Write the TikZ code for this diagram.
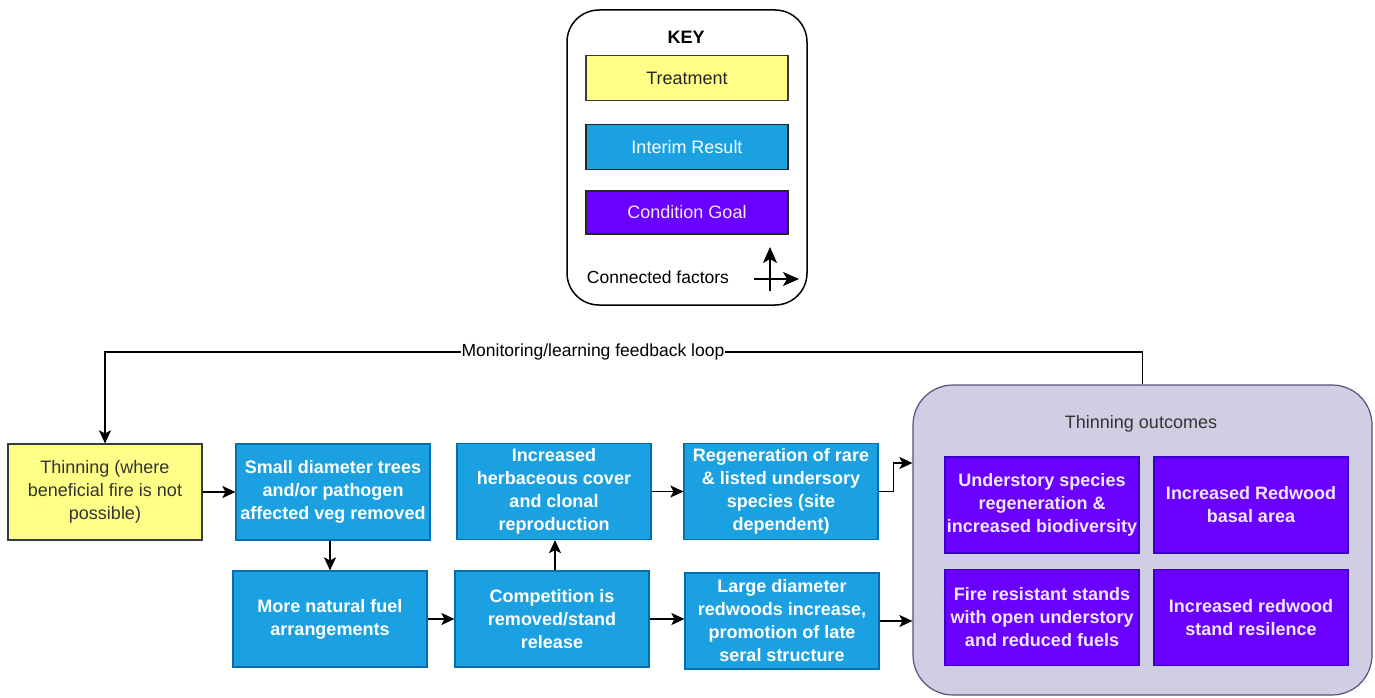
\documentclass[tikz,border=0pt]{standalone}
\usepackage{fontspec}
\setmainfont{Liberation Sans}
\usetikzlibrary{arrows.meta,calc}
\definecolor{treatfill}{HTML}{FFFF88}
\definecolor{treatline}{HTML}{36393D}
\definecolor{interfill}{HTML}{1BA1E2}
\definecolor{interline}{HTML}{006EAF}
\definecolor{goalfill}{HTML}{6A00FF}
\definecolor{goalline}{HTML}{3700CC}
\definecolor{goaltext}{HTML}{F3E8FF}
\definecolor{groupfill}{HTML}{D0CEE2}
\definecolor{groupline}{HTML}{56517E}
\definecolor{darktext}{HTML}{333333}
\tikzset{
  base/.style={rectangle, align=center, inner sep=2pt,
    font=\fontsize{18}{23}\selectfont, line width=1.2pt},
  treat/.style={base, fill=treatfill, draw=treatline, text=darktext},
  inter/.style={base, fill=interfill, draw=interline, text=white, font=\fontsize{18}{23}\selectfont\bfseries},
  goal/.style={base, fill=goalfill, draw=goalline, text=goaltext, font=\fontsize{18}{23}\selectfont\bfseries},
  flowbox/.style={minimum width=194pt, minimum height=96pt},
  keybox/.style={minimum width=202pt, minimum height=45pt},
  arr/.style={line width=1.5pt, -{Stealth[length=13pt,width=12pt,inset=3pt]}},
  bigarr/.style={line width=1.8pt, -{Stealth[length=16pt,width=14pt,inset=4pt]}},
}
\begin{document}
\begin{tikzpicture}[x=1pt,y=-1pt]
\useasboundingbox[fill=white] (0,0) rectangle (1375,698);

% legend
\node[draw=black, line width=1.5pt, rounded corners=32pt, fill=white,
  minimum width=240pt, minimum height=295pt] (key) at (687,157.5) {};
\node[font=\fontsize{18}{23}\selectfont\bfseries] (keytitle) at (686,37) {KEY};
\node[treat, keybox, font=\fontsize{18}{23}\selectfont, text=black!85] (kt) at (687,78) {Treatment};
\node[inter, keybox, draw=black!85, font=\fontsize{18}{23}\selectfont] (ki) at (687,147) {Interim Result};
\node[goal, keybox, minimum height=43pt, draw=black!85, font=\fontsize{18}{23}\selectfont] (kg) at (687,212.5) {Condition Goal};
\node[font=\fontsize{17.5}{20}\selectfont] (kc) at (658,277) {Connected factors};
\coordinate (vlo) at (770,291);
\coordinate (vhi) at (770,247);
\coordinate (hlo) at (754,279);
\coordinate (hhi) at (799,279);
\draw[bigarr] (vlo) -- (vhi);
\draw[bigarr] (hlo) -- (hhi);

% outcomes group
\node[draw=groupline, fill=groupfill, line width=1.2pt, rounded corners=40pt,
  minimum width=459pt, minimum height=310pt] (outc) at (1142.5,540) {};
\node[font=\fontsize{18}{23}\selectfont, text=darktext] (outtitle) at (1141,424) {Thinning outcomes};
\node[goal, flowbox] (g1) at (1042,505) {Understory species\\regeneration \&\\increased biodiversity};
\node[goal, flowbox] (g2) at (1251,505) {Increased Redwood\\basal area};
\node[goal, flowbox] (g3) at (1042,617.5) {Fire resistant stands\\with open understory\\and reduced fuels};
\node[goal, flowbox] (g4) at (1251,617.5) {Increased redwood\\stand resilence};

% flow boxes
\node[treat, flowbox] (thin) at (105,492) {Thinning (where\\beneficial fire is not\\possible)};
\node[inter, flowbox] (small) at (333,492) {Small diameter trees\\and/or pathogen\\affected veg removed};
\node[inter, flowbox] (fuel) at (330,619) {More natural fuel\\arrangements};
\node[inter, flowbox] (herb) at (554,491.5) {Increased\\herbaceous cover\\and clonal\\reproduction};
\node[inter, flowbox] (comp) at (552,619) {Competition is\\removed/stand\\release};
\node[inter, flowbox] (regen) at (781,491.5) {Regeneration of rare\\\& listed undersory\\species (site\\dependent)};
\node[inter, flowbox] (large) at (782,621) {Large diameter\\redwoods increase,\\promotion of late\\seral structure};

% connectors
\draw[arr] (thin.east) -- (small.west);
\draw[arr] (small.south -| fuel.north) -- (fuel.north);
\draw[arr] (fuel.east) -- (fuel.east -| comp.west);
\draw[arr] (comp.north -| 555,0) -- (herb.south -| 555,0);
\draw[arr] (herb.east) -- (herb.east -| regen.west);
\draw[arr] (comp.east) -- (comp.east -| large.west);
\coordinate (in1) at (outc.west |- 0,463);
\draw[arr] (regen.east) -- ++(15,0) |- (in1);
\draw[arr] (large.east) -- (large.east -| outc.west);

% feedback loop
\coordinate (fbl) at (thin.north |- 0,352);
\draw[arr] (outc.north) -- (outc.north |- fbl) -- (fbl) -- (thin.north);
\node[fill=white, inner sep=1pt, font=\fontsize{17.5}{20}\selectfont] (fblabel) at (593,352) {Monitoring/learning feedback loop};
\end{tikzpicture}
\end{document}
